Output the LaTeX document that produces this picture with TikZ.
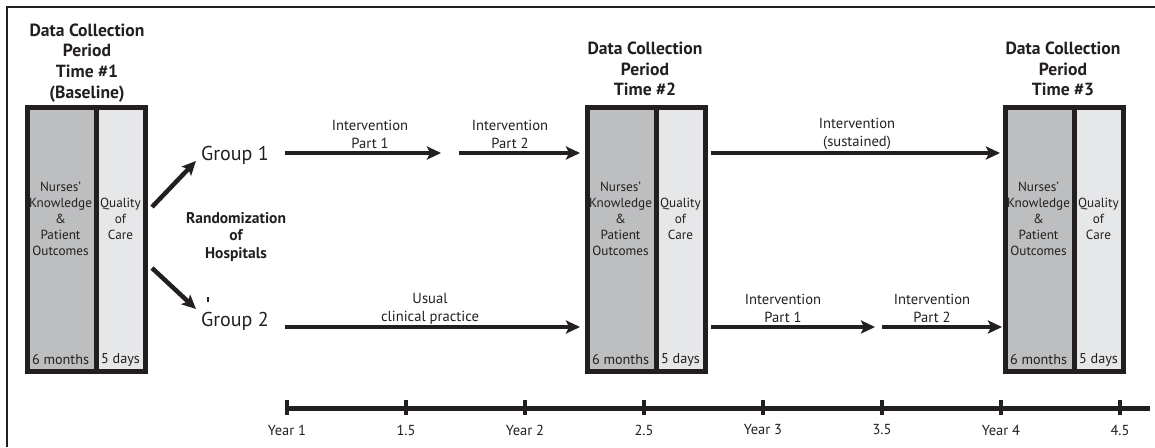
\documentclass[tikz,border=0pt]{standalone}
\usepackage{fontspec}
\setmainfont{PT Sans}
\usetikzlibrary{arrows.meta}
\definecolor{ink}{HTML}{231F20}
\definecolor{darkpane}{HTML}{BCBEC0}
\definecolor{lightpane}{HTML}{E6E7E8}
\tikzset{
  pane/.style={draw=ink, line width=5pt, minimum height=264pt, inner sep=0pt},
  dpane/.style={pane, fill=darkpane, minimum width=68.5pt},
  lpane/.style={pane, fill=lightpane, minimum width=49.5pt},
  title/.style={font=\fontsize{17.6}{20.7}\selectfont\bfseries, align=center, text=ink, inner sep=0pt},
  body/.style={font=\fontsize{13.2}{16}\selectfont, align=center, text=ink, inner sep=0pt},
  foot/.style={font=\fontsize{14.2}{16}\selectfont, text=ink, inner sep=0pt},
  lbl/.style={font=\fontsize{14.6}{18}\selectfont, align=center, text=ink, inner sep=0pt},
  rnd/.style={font=\fontsize{15.5}{17.5}\selectfont\bfseries, align=center, text=ink, inner sep=0pt},
  grp/.style={font=\fontsize{20}{22}\selectfont, text=ink, inner sep=0pt},
  yr/.style={font=\fontsize{14.5}{15}\selectfont, text=ink, inner sep=0pt},
  arr/.style={draw=ink, line width=4.5pt, -{Stealth[length=14pt,width=13pt,inset=3pt]}},
  frame/.style={draw=ink, line width=2pt},
  axis/.style={draw=ink, line width=5pt},
  tick/.style={draw=ink, line width=4pt},
}
\begin{document}
\begin{tikzpicture}[x=1pt,y=-1pt]
\useasboundingbox (0,0) rectangle (1155,447);
% frame
\coordinate (fTL) at (7,7);
\coordinate (fBL) at (7,447);
\coordinate (fTR) at (1155,7);
\draw[frame] (fBL) -- (fTL) -- (fTR);

% data collection boxes
\foreach \i/\L in {1/27.5,2/587.5,3/1005.5}{
  \node[dpane] (d\i) at (\L+34.25,239.5) {};
  \node[lpane] (q\i) at (\L+93.25,239.5) {};
  \node[body] (k\i) at (\L+33,219) {Nurses’\\Knowledge\\\&\\Patient\\Outcomes};
  \node[body] (c\i) at (\L+93,219) {Quality\\of\\Care};
  \node[foot] (m\i) at (\L+33,360) {6 months};
  \node[foot] (t\i) at (\L+93,360) {5 days};
}

% titles
\node[title] (T1) at (87,63) {Data Collection\\Period\\Time \#1\\(Baseline)};
\node[title] (T2) at (645,69) {Data Collection\\Period\\Time \#2};
\node[title] (T3) at (1063,69) {Data Collection\\Period\\Time \#3};

% groups
\node[grp] (g1) at (235,155) {Group 1};
\node[grp] (g2) at (235,321) {Group 2};
\node[rnd] (rand) at (236,237) {Randomization\\of\\Hospitals};
\coordinate (stA) at (208,297);
\coordinate (stB) at (208,302);
\draw[draw=ink, line width=1.2pt] (stA) -- (stB);

% randomization arrows
\coordinate (ra1) at (152,207);
\coordinate (ra1e) at (196,161);
\coordinate (ra2) at (152,268);
\coordinate (ra2e) at (196,309);
\draw[arr] (ra1) -- (ra1e);
\draw[arr] (ra2) -- (ra2e);

% row 1
\coordinate (a1s) at (285,153);
\coordinate (a1e) at (441,153);
\coordinate (a2s) at (459,153);
\coordinate (a2e) at (580,153);
\coordinate (a3s) at (711,153);
\coordinate (a3e) at (1000,153);
\draw[arr] (a1s) -- (a1e);
\draw[arr] (a2s) -- (a2e);
\draw[arr] (a3s) -- (a3e);
\node[lbl] (l1) at (370,134) {Intervention\\Part 1};
\node[lbl] (l2) at (510,134) {Intervention\\Part 2};
\node[lbl] (l3) at (857,134) {Intervention\\(sustained)};

% row 2
\coordinate (b1s) at (285,327);
\coordinate (b1e) at (580,327);
\coordinate (b2s) at (711,327);
\coordinate (b2e) at (875,327);
\coordinate (b3s) at (882,327);
\coordinate (b3e) at (1002,327);
\draw[arr] (b1s) -- (b1e);
\draw[arr] (b2s) -- (b2e);
\draw[arr] (b3s) -- (b3e);
\node[lbl] (l4) at (430,309) {Usual\\clinical practice};
\node[lbl] (l5) at (783,308) {Intervention\\Part 1};
\node[lbl] (l6) at (932,308) {Intervention\\Part 2};

% timeline
\coordinate (ax0) at (285,408);
\coordinate (ax1) at (1150,408);
\draw[axis] (ax0) -- (ax1);
\foreach \j/\t in {0/Year 1,1/1.5,2/Year 2,3/2.5,4/Year 3,5/3.5,6/Year 4,7/4.5}{
  \coordinate (tk\j) at (287+119*\j,400);
  \coordinate (tb\j) at (287+119*\j,415);
  \draw[tick] (tk\j) -- (tb\j);
  \node[yr] (y\j) at (287+119*\j,430) {\t};
}
\end{tikzpicture}
\end{document}
